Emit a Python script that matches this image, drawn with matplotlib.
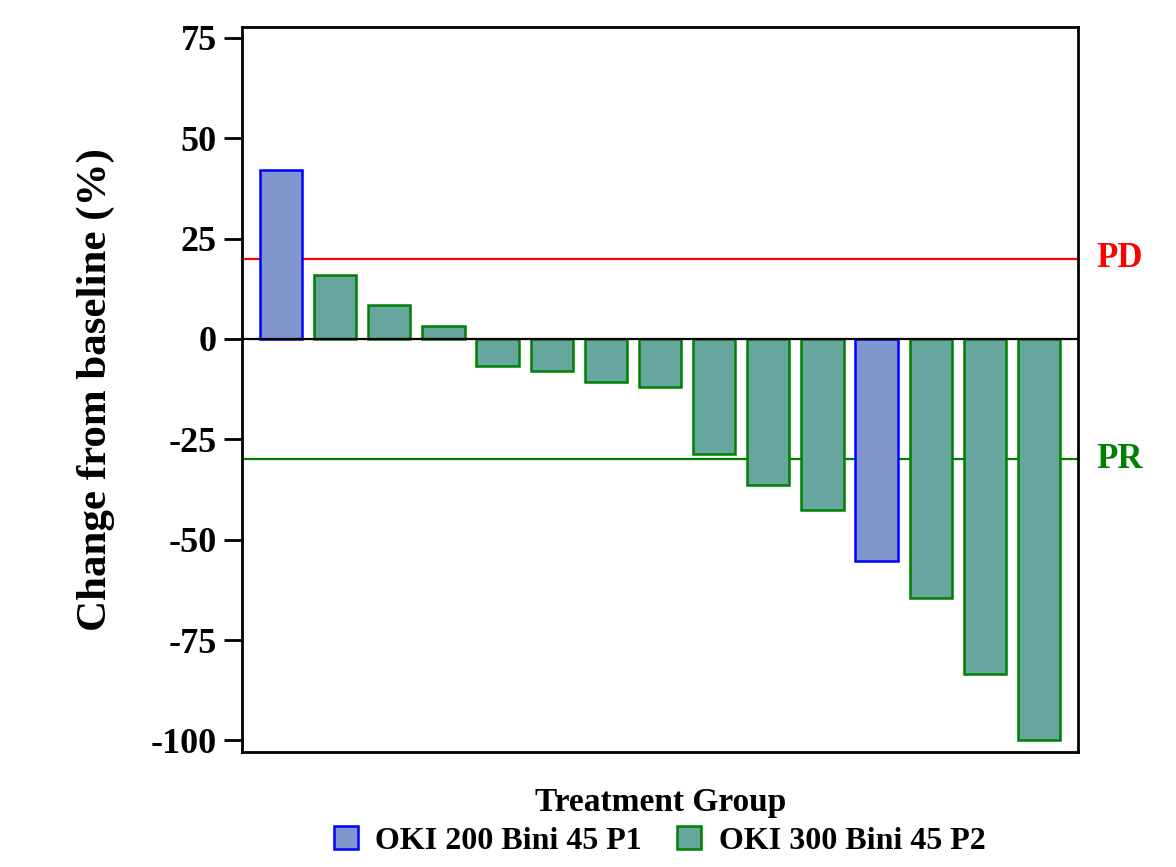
import matplotlib
matplotlib.use("Agg")
import matplotlib.pyplot as plt
from matplotlib.patches import Patch

# best response per patient, sorted (waterfall)
change = [42, 16, 8.5, 3.2, -6.8, -8, -10.7, -12, -28.7, -36.4, -42.6, -55.2, -64.6, -83.4, -100]
group = ["P1", "P2", "P2", "P2", "P2", "P2", "P2", "P2", "P2", "P2", "P2", "P1", "P2", "P2", "P2"]
group_names = {"P1": "OKI 200 Bini 45 P1", "P2": "OKI 300 Bini 45 P2"}
yticks = [75, 50, 25, 0, -25, -50, -75, -100]
pd_cut = 20
pr_cut = -30

face = {"P1": "#7F97CC", "P2": "#67A69F"}
edge = {"P1": "#0000FF", "P2": "#008000"}

plt.rcParams["font.family"] = ["Liberation Serif", "DejaVu Serif"]
plt.rcParams["font.weight"] = "bold"

fig = plt.figure(figsize=(11.76, 8.67), dpi=100)
ax = fig.add_axes([0.2058, 0.1326, 0.7109, 0.8363])

x = list(range(len(change)))
ax.axhline(pd_cut, color="#FF0000", lw=1.6, zorder=1)
ax.axhline(pr_cut, color="#008000", lw=1.6, zorder=1)
ax.bar(x, change, width=0.78,
       color=[face[g] for g in group],
       edgecolor=[edge[g] for g in group],
       linewidth=1.8, zorder=2)
ax.axhline(0, color="black", lw=1.6, zorder=3)

ax.set_xlim(-0.72, len(change) - 1 + 0.72)
ax.set_ylim(-102.9, 77.7)
ax.set_yticks(yticks)
ax.set_yticklabels([str(t) for t in yticks])
ax.set_xticks([])
ax.tick_params(axis="y", labelsize=26, length=13, width=2, pad=5)
for s in ax.spines.values():
    s.set_linewidth(2)

ax.set_ylabel("Change from baseline (%)", fontsize=31, fontweight="bold", labelpad=26)

ax.text(1.022, pd_cut, "PD", transform=ax.get_yaxis_transform(), color="#FF0000",
        fontsize=25, fontweight="bold", va="center", ha="left")
ax.text(1.022, pr_cut, "PR", transform=ax.get_yaxis_transform(), color="#008000",
        fontsize=25, fontweight="bold", va="center", ha="left")

# legend title and entries
fig.text(0.562, 1 - 802 / 867, "Treatment Group", fontsize=24, fontweight="bold",
         ha="center", va="center")
handles = [Patch(facecolor=face[k], edgecolor=edge[k], linewidth=1.8, label=group_names[k])
           for k in ["P1", "P2"]]
fig.legend(handles=handles, loc="center", bbox_to_anchor=(0.561, 1 - 841 / 867),
           ncol=2, frameon=False, fontsize=23,
           handlelength=0.75, handleheight=0.75, handletextpad=0.55,
           columnspacing=1.1, borderpad=0.1)

fig.savefig("out.png", dpi=100)
